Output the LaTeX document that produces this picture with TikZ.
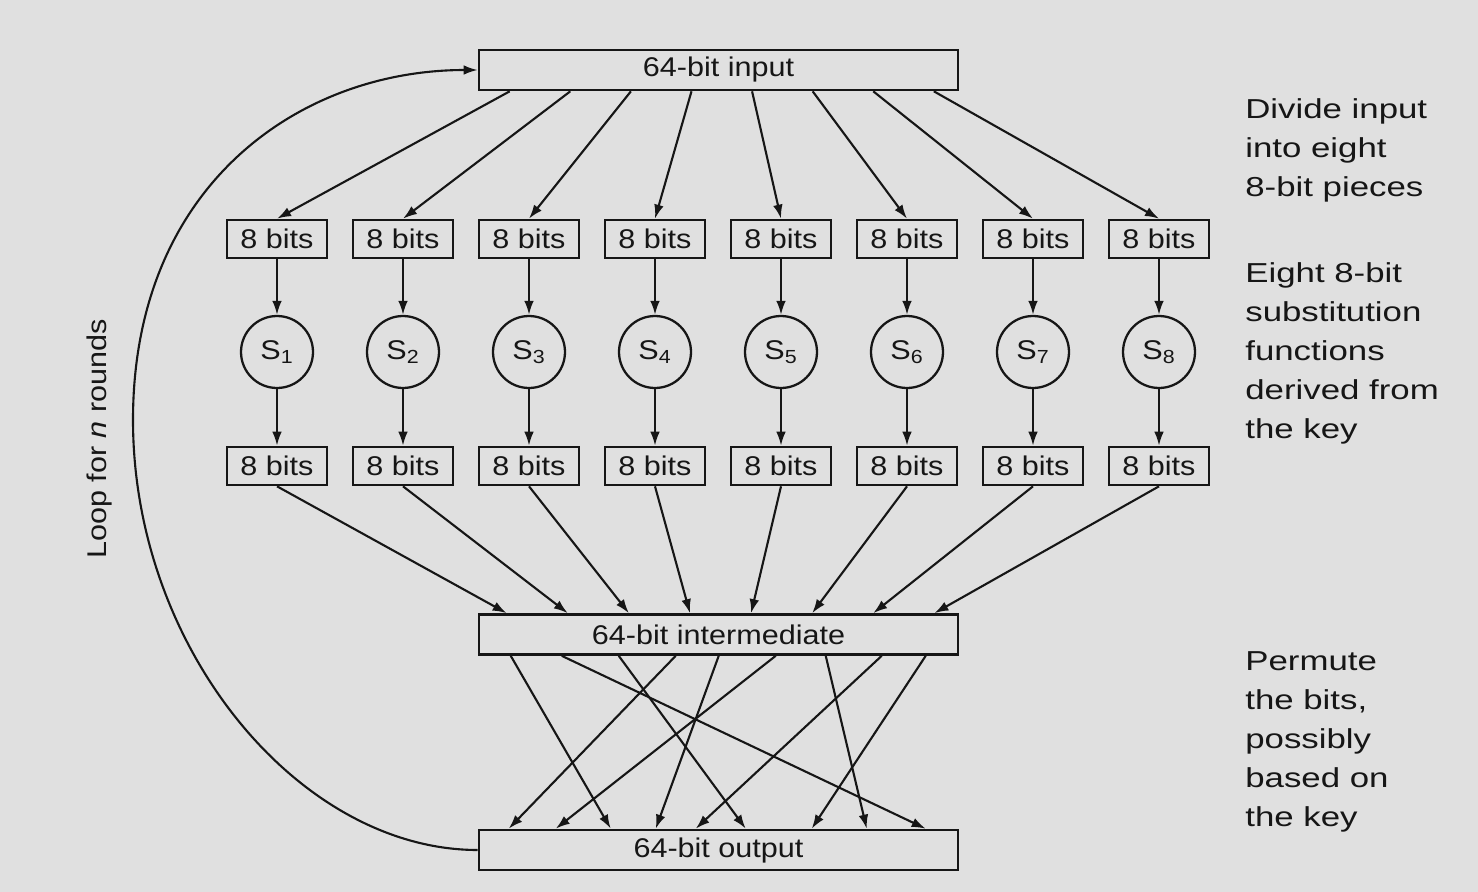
\documentclass[tikz,border=0pt]{standalone}
\usepackage{fontspec}
\setmainfont{Liberation Sans}[FakeStretch=1.13]
\newfontfamily\notefont{Liberation Sans}[FakeStretch=1.27]
\usetikzlibrary{arrows.meta}
\definecolor{des-bg}{HTML}{E0E0E0}
\definecolor{des-ink}{HTML}{161616}

\begin{document}
\begin{tikzpicture}[x=0.02cm, y=-0.02cm,
    wide/.style={draw=des-ink, line width=1.5pt, minimum width=9.58cm, minimum height=0.8cm,
                 inner sep=0pt, text=des-ink, font=\fontsize{15.4}{18}\selectfont},
    bitbox/.style={draw=des-ink, line width=1.5pt, minimum width=2cm, minimum height=0.76cm,
                   inner sep=0pt, text=des-ink, font=\fontsize{15.4}{18}\selectfont},
    sbox/.style={draw=des-ink, circle, line width=1.3pt, minimum size=1.44cm, inner sep=0pt,
                 text=des-ink, font=\fontsize{15.4}{18}\selectfont},
    arr/.style={-{Latex[length=8pt,width=5.5pt]}, line width=1.2pt, des-ink},
    note/.style={anchor=north west, inner sep=0pt, align=left, text=des-ink,
                 font=\notefont\fontsize{15.6}{22.2}\selectfont},
]
    \fill[des-bg] (0,0) rectangle (1478,892);
    \useasboundingbox (0,0) rectangle (1478,892);

    \node[wide] (in)  at (718.5,70)    {64-bit input};
    \node[wide] (mid) at (718.5,634.5) {64-bit intermediate};
    \node[wide] (out) at (718.5,850)   {64-bit output};

    % eight S-box columns
    \foreach \i in {1,...,8} {
        \node[bitbox] (b\i) at (151+126*\i,239) {8 bits};
        \node[sbox]   (s\i) at (151+126*\i,352) {S\textsubscript{\i}};
        \node[bitbox] (c\i) at (151+126*\i,466) {8 bits};
        \draw[arr] ([xshift={(1.212*\i-0.572)*1cm}]in.south west) -- (b\i.north);
        \draw[arr] (b\i) -- (s\i);
        \draw[arr] (s\i) -- (c\i);
        \draw[arr] (c\i.south) -- ([xshift={(1.222*\i-0.642)*1cm}]mid.north west);
    }

    % permutation
    \foreach \a/\b in {33/133, 84/448, 141/268, 198/31, 241/178, 298/78, 348/389, 404/218, 448/334}
        \draw[arr] ([xshift=\a*0.02cm]mid.south west) -- ([xshift=\b*0.02cm]out.north west);

    \draw[arr] (out.west) .. controls (300,850) and (133,650) .. (133,420)
                          .. controls (133,185) and (300,70) .. (in.west);
    \node[rotate=90, text=des-ink, font=\fontsize{15.4}{18}\selectfont] (loop) at (100,439)
        {Loop for \textit{n} rounds};

    \node[note] (n1) at (1245,98)  {Divide input\\into eight\\8-bit pieces};
    \node[note] (n2) at (1245,262) {Eight 8-bit\\substitution\\functions\\derived from\\the key};
    \node[note] (n3) at (1245,651) {Permute\\the bits,\\possibly\\based on\\the key};
\end{tikzpicture}
\end{document}
